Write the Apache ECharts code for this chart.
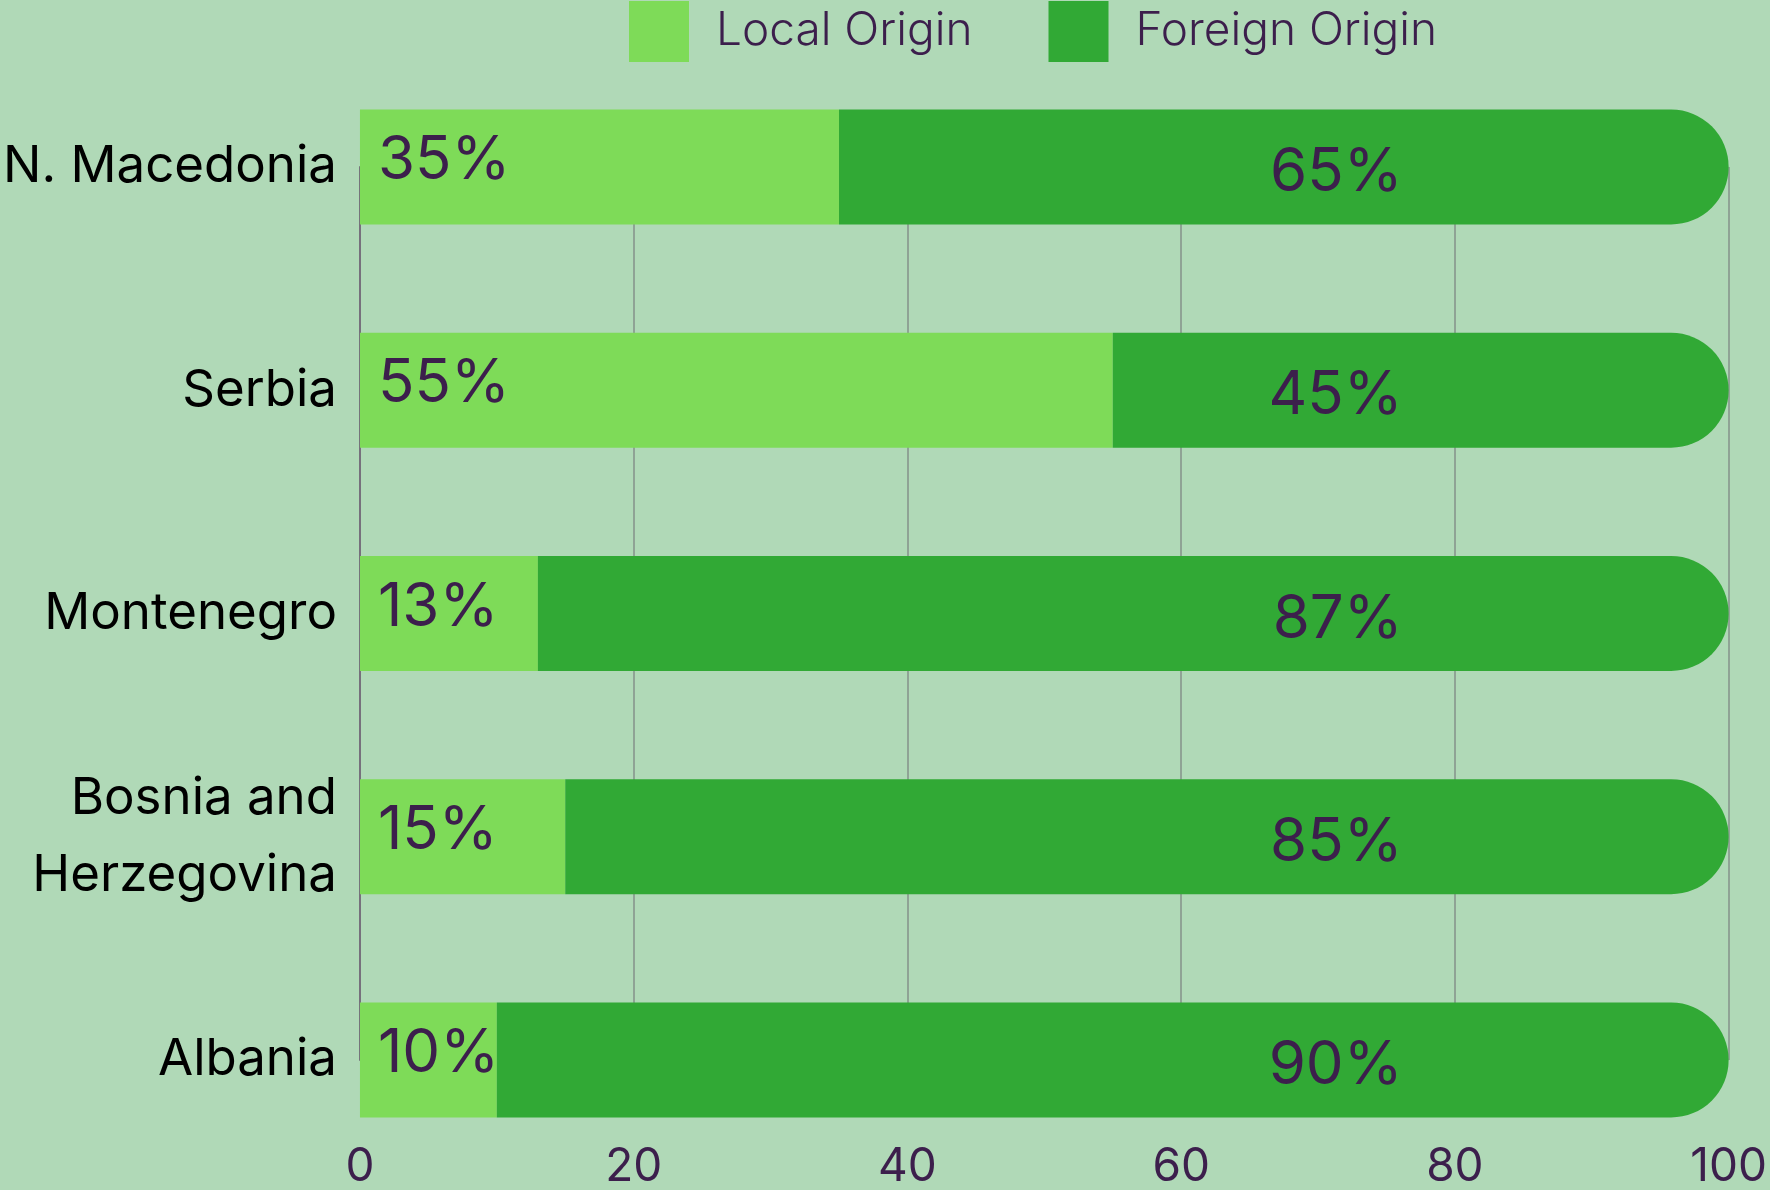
<!DOCTYPE html>
<html>
<head>
<meta charset="utf-8">
<script src="https://cdn.jsdelivr.net/npm/echarts@6/dist/echarts.min.js"></script>
<style>
  html, body { margin: 0; padding: 0; background: #b0d9b7; }
  #main { width: 1770px; height: 1190px; }
</style>
</head>
<body>
<div id="main"></div>
<script>
// data
var countries = ['N. Macedonia', 'Serbia', 'Montenegro', 'Bosnia and\nHerzegovina', 'Albania'];
var localOrigin = [35, 55, 13, 15, 10];
var foreignOrigin = [65, 45, 87, 85, 90];
var xTicks = [0, 20, 40, 60, 80, 100];

var textColor = '#3c1f4c';
var chart = echarts.init(document.getElementById('main'));

var option = {
    backgroundColor: '#b0d9b7',
    textStyle: { fontFamily: 'Inter' },
    legend: {
        left: 629,
        top: 1,
        padding: 0,
        icon: 'rect',
        itemWidth: 60,
        itemHeight: 61,
        itemGap: 76,
        textStyle: { color: textColor, fontSize: 46, fontFamily: 'Inter', fontWeight: 300, padding: [0, 0, 0, 22] },
        data: ['Local Origin', 'Foreign Origin']
    },
    grid: {
        left: 359,
        right: 37,
        top: 167,
        bottom: 130
    },
    xAxis: {
        type: 'value',
        min: xTicks[0],
        max: xTicks[xTicks.length - 1],
        interval: 20,
        axisLine: { show: false },
        axisTick: { show: false },
        axisLabel: { color: textColor, fontSize: 46, margin: 84 },
        splitLine: { lineStyle: { color: '#8fa395', width: 2 } }
    },
    yAxis: {
        type: 'category',
        inverse: true,
        boundaryGap: false,
        data: countries,
        axisLine: { lineStyle: { color: '#76707c', width: 2 } },
        axisTick: { show: false },
        axisLabel: { color: '#000000', fontSize: 51, margin: 23, lineHeight: 77, align: 'right', padding: [14, 0, 0, 0] }
    },
    series: [
        {
            name: 'Local Origin',
            type: 'bar',
            stack: 'all',
            barWidth: 115,
            itemStyle: { color: '#7edb58' },
            label: {
                show: true,
                position: 'insideLeft',
                distance: 18,
                offset: [0, -6],
                formatter: '{c}%',
                color: textColor,
                fontSize: 60
            },
            data: localOrigin
        },
        {
            name: 'Foreign Origin',
            type: 'bar',
            stack: 'all',
            barWidth: 115,
            itemStyle: { color: '#31a935', borderRadius: [0, 57.5, 57.5, 0] },
            label: {
                show: true,
                position: 'insideRight',
                distance: 326,
                offset: [0, 6],
                formatter: '{c}%',
                color: textColor,
                fontSize: 60
            },
            data: foreignOrigin
        }
    ]
};

chart.setOption(option);
</script>
</body>
</html>
